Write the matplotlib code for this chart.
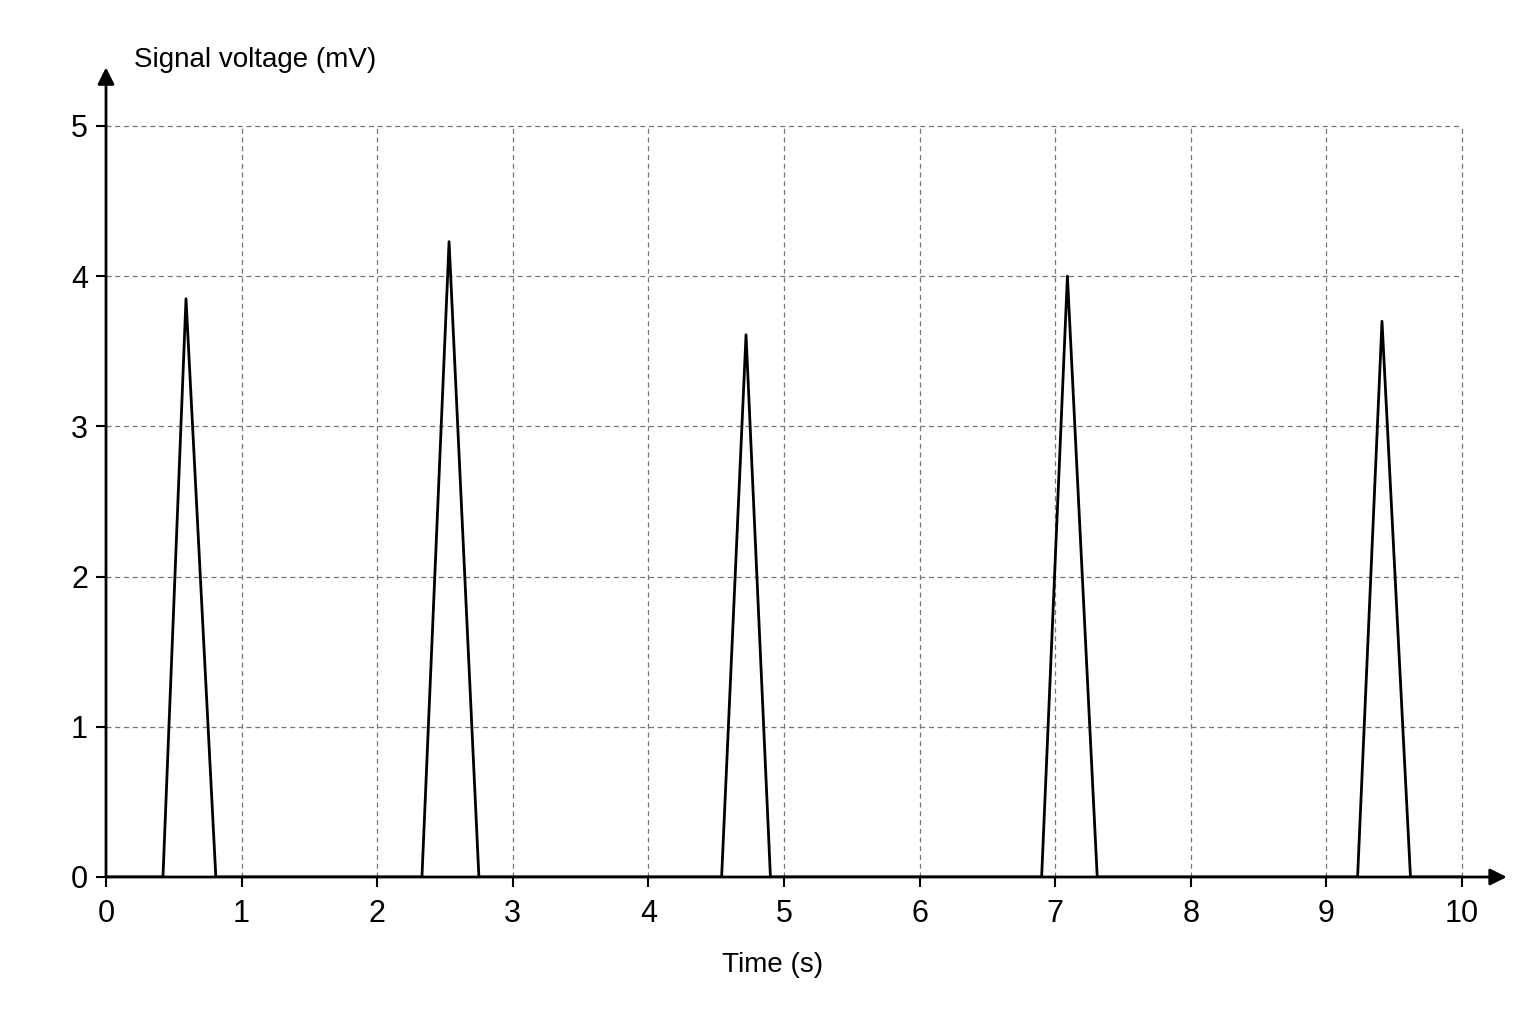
import numpy as np
import matplotlib.pyplot as plt

plt.rcParams['font.family'] = ['Liberation Sans', 'DejaVu Sans']

# pulse times (s) and voltages (mV): baseline -> start, peak, end -> baseline
t_start = [0.42, 2.33, 4.54, 6.90, 9.23]
t_peak = [0.59, 2.53, 4.72, 7.09, 9.41]
t_end = [0.81, 2.75, 4.90, 7.31, 9.62]
v_peak = [3.85, 4.23, 3.61, 4.00, 3.70]

xticks = list(range(0, 11))
yticks = list(range(0, 6))

t = [0.0]
v = [0.0]
for s, p, e, h in zip(t_start, t_peak, t_end, v_peak):
    t += [s, p, e]
    v += [0.0, h, 0.0]
t.append(10.0)
v.append(0.0)

fig = plt.figure(figsize=(15.36, 10.24), dpi=100)
ax = fig.add_axes([106 / 1536, 1 - 877 / 1024, 1356 / 1536, 751 / 1024])
ax.set_xlim(0, 10)
ax.set_ylim(0, 5)

for x in xticks[1:]:
    ax.plot([x, x], [0, 5], color='#777777', lw=0.9, ls=(0, (4, 3)), zorder=1, clip_on=False)
for y in yticks[1:]:
    ax.plot([0, 10], [y, y], color='#777777', lw=0.9, ls=(0, (4, 3)), zorder=1, clip_on=False)

ax.plot(t, v, color='black', lw=2, zorder=3)

for sp in ax.spines.values():
    sp.set_visible(False)

ax.annotate('', xy=(1.033, 0), xycoords='axes fraction', xytext=(0, 0),
            arrowprops=dict(arrowstyle='-|>', color='black', lw=2, mutation_scale=25,
                            shrinkA=0, shrinkB=0), annotation_clip=False)
ax.annotate('', xy=(0, 1.078), xycoords='axes fraction', xytext=(0, 0),
            arrowprops=dict(arrowstyle='-|>', color='black', lw=2, mutation_scale=25,
                            shrinkA=0, shrinkB=0), annotation_clip=False)

ax.set_xticks(xticks)
ax.set_yticks(yticks)
ax.tick_params(axis='both', direction='out', length=7, width=1.5, labelsize=22, color='black')
ax.tick_params(axis='x', pad=9)
ax.tick_params(axis='y', pad=6)

fig.text(773 / 1536, 1 - 965 / 1024, 'Time (s)', ha='center', va='center', fontsize=20)
fig.text(134 / 1536, 1 - 60 / 1024, 'Signal voltage (mV)', ha='left', va='center', fontsize=20)

fig.savefig('out.png', dpi=100, facecolor='white')
